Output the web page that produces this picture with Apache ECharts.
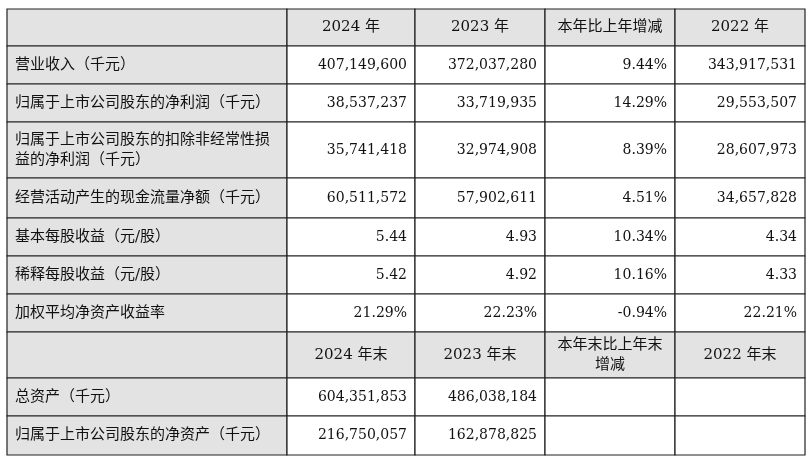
<!DOCTYPE html><html><head><meta charset="utf-8"><script src="https://cdn.jsdelivr.net/npm/echarts@6/dist/echarts.min.js"></script>
<style>html,body{margin:0;padding:0;background:#fff}#c{width:812px;height:459px}</style></head><body><div id="c"></div><script>
const header1=['','2024 年','2023 年','本年比上年增减','2022 年'];
const header2=['','2024 年末','2023 年末','本年末比上年末\n增减','2022 年末'];
const rowLabels1=['营业收入（千元）','归属于上市公司股东的净利润（千元）','归属于上市公司股东的扣除非经常性损\n益的净利润（千元）','经营活动产生的现金流量净额（千元）','基本每股收益（元/股）','稀释每股收益（元/股）','加权平均净资产收益率'];
const v2024=['407,149,600','38,537,237','35,741,418','60,511,572','5.44','5.42','21.29%'];
const v2023=['372,037,280','33,719,935','32,974,908','57,902,611','4.93','4.92','22.23%'];
const vChg=['9.44%','14.29%','8.39%','4.51%','10.34%','10.16%','-0.94%'];
const v2022=['343,917,531','29,553,507','28,607,973','34,657,828','4.34','4.33','22.21%'];
const rowLabels2=['总资产（千元）','归属于上市公司股东的净资产（千元）'];
const e2024=['604,351,853','216,750,057'];
const e2023=['486,038,184','162,878,825'];
const eChg=['',''];
const e2022=['',''];

const rows=[];
rows.push({h:true,cells:header1});
rowLabels1.forEach((l,i)=>rows.push({h:false,cells:[l,v2024[i],v2023[i],vChg[i],v2022[i]]}));
rows.push({h:true,cells:header2});
rowLabels2.forEach((l,i)=>rows.push({h:false,cells:[l,e2024[i],e2023[i],eChg[i],e2022[i]]}));
const data=[];
rows.forEach((r,ri)=>r.cells.forEach((t,ci)=>data.push([ci,ri,t,r.h?1:0])));

const colEdges=[7,287,415,545,675,805];
const rowEdges=[9,46,84,122,178,218,256,294,332,378,416,455];
const ch=echarts.init(document.getElementById('c'));
ch.setOption({
 animation:false,
 grid:{left:0,right:0,top:0,bottom:0},
 xAxis:{type:'value',show:false,min:0,max:812},
 yAxis:{type:'value',show:false,min:0,max:459,inverse:true},
 series:[{type:'custom',data:data,renderItem:function(p,api){
   const c=api.value(0),r=api.value(1),t=data[p.dataIndex][2],hd=api.value(3);
   const x0=colEdges[c],x1=colEdges[c+1],y0=rowEdges[r],y1=rowEdges[r+1];
   const grey=hd||c===0;
   let align='right',tx=x1-8;
   if(hd){align='center';tx=(x0+x1)/2;} else if(c===0){align='left';tx=x0+8;}
   const fs=(c===0||hd)?15:14;
   return {type:'group',children:[
     {type:'rect',shape:{x:x0,y:y0,width:x1-x0,height:y1-y0},style:{fill:grey?'#e3e3e3':'#fff',stroke:'#222',lineWidth:1.2}},
     {type:'text',style:{x:tx,y:(y0+y1)/2,text:t,align:align,verticalAlign:'middle',fill:'#111',font:fs+'px "DejaVu Serif","Noto Sans CJK SC"',lineHeight:20}}
   ]};
 }}]
});
</script></body></html>
